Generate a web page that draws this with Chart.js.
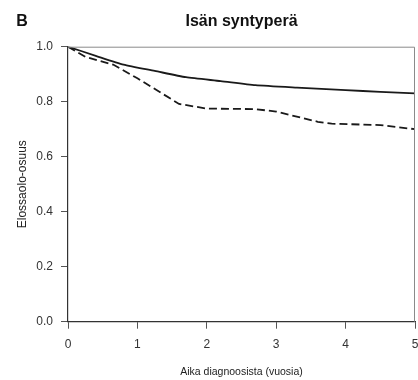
<!DOCTYPE html>
<html>
<head>
<meta charset="utf-8">
<script src="https://cdn.jsdelivr.net/npm/chart.js@4"></script>
<style>
html,body{margin:0;padding:0;background:#fff;}
#wrap{width:418px;height:380px;position:relative;}
</style>
</head>
<body>
<div id="wrap"><canvas id="kaavio"></canvas></div>
<script>
// survival curves
const aikaYhtenainen=[0,0.4,0.8,1.25,1.7,2.2,2.7,3.3,4.0,4.5,5.0];
const osuusYhtenainen=[1.0,0.967,0.935,0.912,0.889,0.875,0.860,0.851,0.842,0.836,0.830];
const aikaKatko=[0,0.25,0.65,1.0,1.6,2.0,2.7,3.0,3.6,3.8,4.5,5.0];
const osuusKatko=[1.0,0.963,0.935,0.885,0.792,0.775,0.773,0.764,0.727,0.720,0.715,0.700];
const xTicks=[0,1,2,3,4,5];
const yTicks=[0,0.2,0.4,0.6,0.8,1.0];

const pisteet=(t,s)=>t.map((v,i)=>({x:v,y:s[i]}));

// panel letter + grey frame on top/right
const kehys={
id:"kehys",
afterDraw(chart){
const c=chart.ctx,a=chart.chartArea;
c.save();
c.strokeStyle="#8a8a8a";
c.lineWidth=1;
c.beginPath();
c.moveTo(a.left,a.top+0.5);
c.lineTo(a.right-0.5,a.top+0.5);
c.lineTo(a.right-0.5,a.bottom);
c.stroke();
c.fillStyle="#111";
c.font="bold 16px 'Liberation Sans', Arial, sans-serif";
c.textAlign="center";
c.textBaseline="middle";
c.fillText("B",22,22);
c.restore();
}
};

const fontti="'Liberation Sans', Arial, sans-serif";

new Chart(document.getElementById("kaavio"),{
type:"line",
data:{
datasets:[{
data:pisteet(aikaYhtenainen,osuusYhtenainen),
borderColor:"#1a1a1a",
borderWidth:1.8,
pointRadius:0,
tension:0.2,
fill:false
},{
data:pisteet(aikaKatko,osuusKatko),
borderColor:"#1a1a1a",
borderWidth:1.8,
borderDash:[8,4],
pointRadius:0,
tension:0,
fill:false
}]
},
options:{
responsive:true,
maintainAspectRatio:false,
animation:false,
layout:{padding:{left:0,right:3,top:0,bottom:0}},
plugins:{
legend:{display:false},
tooltip:{enabled:false},
title:{
display:true,
fullSize:false,
text:"Isän syntyperä",
color:"#111",
font:{family:fontti,size:16,weight:"bold"},
padding:{top:12,bottom:15.5}
}
},
scales:{
x:{
type:"linear",
min:0,
max:5,
afterBuildTicks:s=>{s.ticks=xTicks.map(v=>({value:v}));},
afterFit:s=>{s.height=58.3;s.paddingLeft=0;s.paddingRight=3;},
grid:{drawOnChartArea:false,drawTicks:true,tickLength:7,color:"#555"},
border:{display:true,color:"#333",width:1.2},
ticks:{color:"#333",padding:9,font:{family:fontti,size:12},maxRotation:0},
title:{display:true,text:"Aika diagnoosista (vuosia)",color:"#222",font:{family:fontti,size:10.5},padding:{top:4,bottom:2}}
},
y:{
min:0,
max:1,
afterBuildTicks:s=>{s.ticks=yTicks.map(v=>({value:v}));},
afterFit:s=>{s.width=68;},
grid:{drawOnChartArea:false,drawTicks:true,tickLength:7,color:"#555"},
border:{display:true,color:"#333",width:1.2},
ticks:{color:"#333",padding:8,font:{family:fontti,size:12},callback:v=>v.toFixed(1)},
title:{display:true,text:"Elossaolo-osuus",color:"#222",font:{family:fontti,size:12},padding:{top:15.5,bottom:0}}
}
}
},
plugins:[kehys]
});
</script>
</body>
</html>
